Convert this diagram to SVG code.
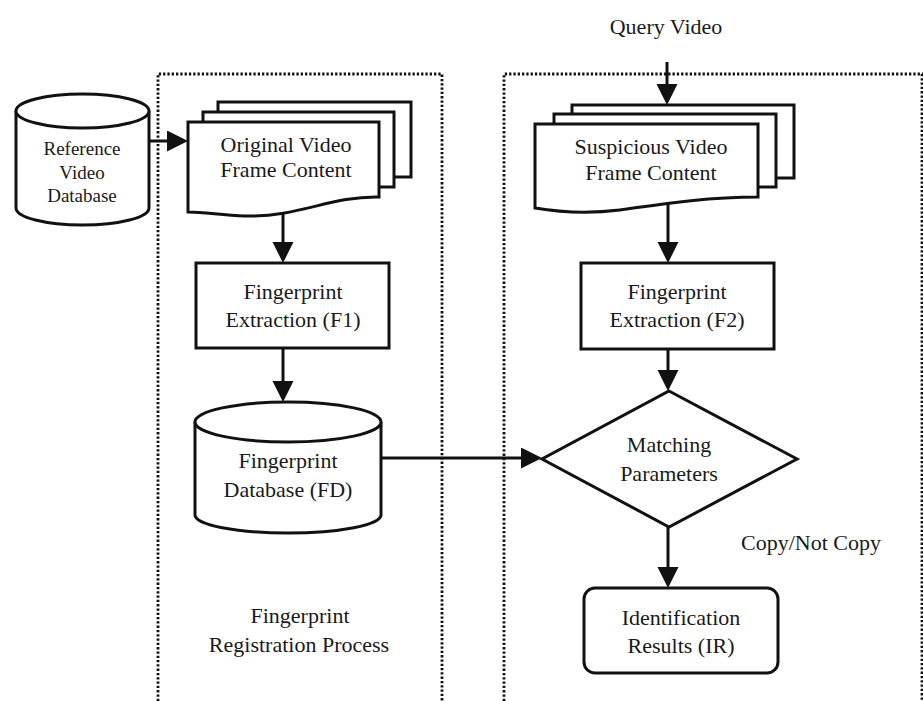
<svg xmlns="http://www.w3.org/2000/svg" width="923" height="701" viewBox="0 0 923 701">
  <style>
    .shape { fill: #fff; stroke: #111; stroke-width: 3; stroke-linejoin: miter; }
    .frame { fill: none; stroke: #111; stroke-width: 2.8; stroke-dasharray: 2.3 2; }
    .conn { fill: none; stroke: #111; stroke-width: 3; }
    text { font-family: "Liberation Serif", "Times New Roman", serif; font-size: 22px; fill: #1a1a1a; text-anchor: middle; }
    .small { font-size: 19px; }
  </style>
  <defs>
    <marker id="arrow" markerUnits="userSpaceOnUse" markerWidth="22" markerHeight="22" refX="6" refY="10.5" orient="auto">
      <path d="M0,0 L21,10.5 L0,21 Z" fill="#111"/>
    </marker>
  </defs>

  <rect width="923" height="701" fill="#fff"/>

  <!-- process frames (open at the bottom) -->
  <g id="registration-frame">
    <path class="frame" d="M158,701 V74 H442 V701"/>
    <text x="300" y="623">Fingerprint</text>
    <text x="299" y="652">Registration Process</text>
  </g>
  <g id="query-frame">
    <path class="frame" d="M504,701 V74 H922 V701"/>
  </g>

  <!-- connectors -->
  <g id="connectors">
    <line class="conn" x1="149" y1="141" x2="173" y2="141" marker-end="url(#arrow)"/>
    <line class="conn" x1="283" y1="208" x2="283" y2="248" marker-end="url(#arrow)"/>
    <line class="conn" x1="283" y1="348" x2="283" y2="387" marker-end="url(#arrow)"/>
    <line class="conn" x1="381" y1="458" x2="527" y2="458" marker-end="url(#arrow)"/>
    <line class="conn" x1="667" y1="62" x2="667" y2="90" marker-end="url(#arrow)"/>
    <line class="conn" x1="668" y1="204" x2="668" y2="248" marker-end="url(#arrow)"/>
    <line class="conn" x1="668" y1="349" x2="668" y2="376" marker-end="url(#arrow)"/>
    <line class="conn" x1="668" y1="527" x2="668" y2="573" marker-end="url(#arrow)"/>
    <text x="741" y="550" style="text-anchor:start">Copy/Not Copy</text>
  </g>

  <!-- reference video database -->
  <g id="reference-db">
    <path class="shape" d="M16,111 V208 A66.5,17 0 0 0 149,208 V111"/>
    <ellipse class="shape" cx="82.5" cy="111" rx="66.5" ry="17"/>
    <text class="small" x="82" y="155">Reference</text>
    <text class="small" x="82" y="179">Video</text>
    <text class="small" x="82" y="202">Database</text>
  </g>

  <!-- original video frame content (stacked documents) -->
  <g id="original-frames">
    <rect class="shape" x="218" y="102" width="193" height="75"/>
    <rect class="shape" x="203" y="112" width="191" height="75"/>
    <path class="shape" d="M188,122 H379 V197 C330,196 300,217 245,216 C220,215 205,212 188,212 Z"/>
    <text x="286" y="152">Original Video</text>
    <text x="286" y="177">Frame Content</text>
  </g>

  <!-- fingerprint extraction F1 -->
  <g id="extraction-f1">
    <rect class="shape" x="196" y="263" width="193" height="85"/>
    <text x="293" y="299">Fingerprint</text>
    <text x="293" y="327">Extraction (F1)</text>
  </g>

  <!-- fingerprint database -->
  <g id="fingerprint-db">
    <path class="shape" d="M195,422 V515 A93,18 0 0 0 381,515 V422"/>
    <ellipse class="shape" cx="288" cy="422" rx="93" ry="20"/>
    <text x="288" y="468">Fingerprint</text>
    <text x="288" y="497">Database (FD)</text>
  </g>

  <!-- query video input -->
  <g id="query-video">
    <text x="666" y="34">Query Video</text>
  </g>

  <!-- suspicious video frame content (stacked documents) -->
  <g id="suspicious-frames">
    <rect class="shape" x="572" y="105" width="222" height="73"/>
    <rect class="shape" x="554" y="114" width="222" height="73"/>
    <path class="shape" d="M535,124 H758 V197 C700,197 650,206 620,210 C595,213 570,214 535,208 Z"/>
    <text x="651" y="154">Suspicious Video</text>
    <text x="651" y="180">Frame Content</text>
  </g>

  <!-- fingerprint extraction F2 -->
  <g id="extraction-f2">
    <rect class="shape" x="581" y="263" width="193" height="86"/>
    <text x="677" y="299">Fingerprint</text>
    <text x="677" y="327">Extraction (F2)</text>
  </g>

  <!-- matching decision -->
  <g id="matching">
    <polygon class="shape" points="669,391 797,459 669,527 542,459"/>
    <text x="669" y="452">Matching</text>
    <text x="669" y="481">Parameters</text>
  </g>

  <!-- identification results -->
  <g id="identification">
    <rect class="shape" x="584" y="588" width="194" height="85" rx="11" ry="11"/>
    <text x="681" y="625">Identification</text>
    <text x="681" y="653">Results (IR)</text>
  </g>
</svg>
